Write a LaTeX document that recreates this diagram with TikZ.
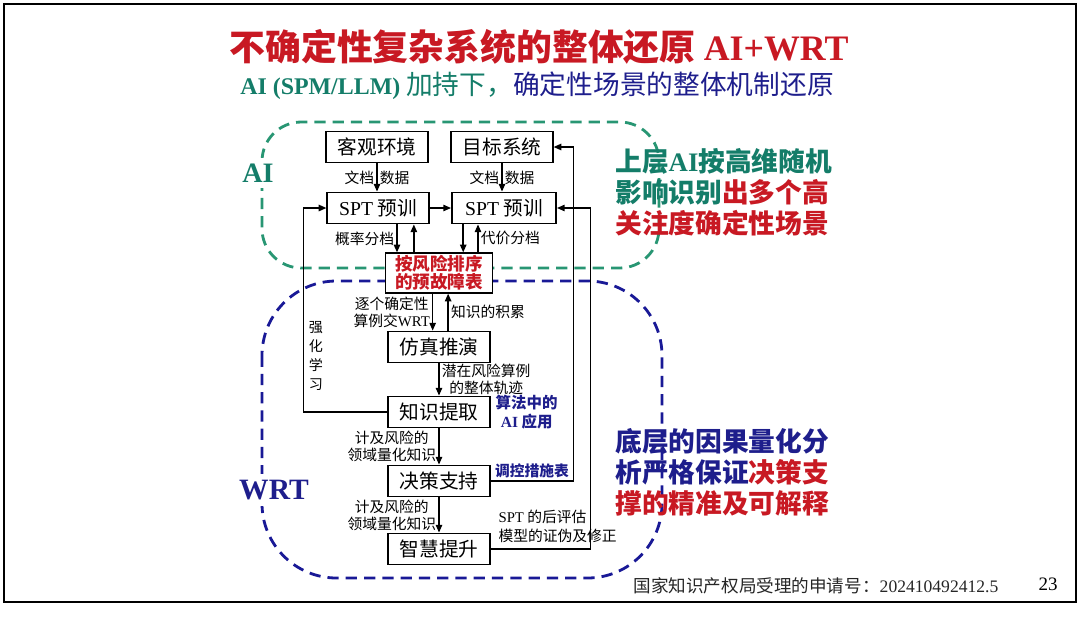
\documentclass[tikz,border=0pt]{standalone}
\usepackage{fontspec}
\setmainfont{Noto Sans CJK SC}
\newfontfamily\tnr{Liberation Serif}
\usetikzlibrary{arrows.meta,positioning}
\definecolor{titlered}{RGB}{200,25,35}
\definecolor{aiteal}{RGB}{20,125,105}
\definecolor{wrtnavy}{RGB}{30,30,140}
\definecolor{aidash}{RGB}{40,150,115}
\definecolor{wrtdash}{RGB}{25,25,150}
\newcommand{\lat}[1]{{\tnr #1}}

\begin{document}
\begin{tikzpicture}[x=0.025cm,y=-0.025cm,
    box/.style={draw, line width=1.3pt, fill=white, minimum width=72pt, minimum height=22pt, inner sep=0pt, font=\fontsize{14}{16}\selectfont},
    lbl/.style={font=\fontsize{10.5}{12}\selectfont, inner sep=1.5pt, align=center},
    link/.style={line width=1.1pt, ->, >={Triangle[length=5.5pt,width=4.5pt]}},
    zone/.style={dash pattern=on 8pt off 5pt, line width=2pt},
    side/.style={font=\bfseries\fontsize{19}{22}\selectfont, align=left, anchor=west, inner sep=0pt}]
    \useasboundingbox (0,0) rectangle (1080,634);
    \draw[line width=2pt] (4,4) rectangle (1076,602);

    % title lines
    \node (title) at (539,47) [text=titlered, font=\bfseries\fontsize{25.5}{28}\selectfont] {不确定性复杂系统的整体还原\ \lat{AI+WRT}};
    \node (sub) at (537,86) [font=\fontsize{19}{22}\selectfont] {\textcolor{aiteal}{{\tnr\bfseries\fontsize{17}{20}\selectfont AI (SPM/LLM)} 加持下，}\textcolor{wrtnavy}{确定性场景的整体机制还原}};

    % the two layers
    \draw[zone, aidash, rounded corners=28pt] (262,122) rectangle (659,268);
    \draw[zone, wrtdash, rounded corners=53pt] (262,281) rectangle (662,578);
    \node (ailbl) at (258,173) [fill=white, text=aiteal, inner sep=4pt, font=\tnr\bfseries\fontsize{20}{22}\selectfont] {AI};
    \node (wrtlbl) at (274,490) [fill=white, text=wrtnavy, inner sep=4pt, font=\tnr\bfseries\fontsize{21}{23}\selectfont] {WRT};

    % boxes
    \node[box] (kg) at (377,147) {客观环境};
    \node[box] (mb) at (502,147) {目标系统};
    \node[box] (spta) at (378,208) {\lat{SPT} 预训};
    \node[box, minimum width=74pt] (sptb) at (504,208) {\lat{SPT} 预训};
    \node[box, minimum width=76pt, minimum height=28pt, text=titlered, align=center, font=\bfseries\fontsize{12.5}{13}\selectfont] (tbl) at (439,273) {按风险排序\\的预故障表};
    \node[box] (sim) at (439,347) {仿真推演};
    \node[box] (kx) at (439,412) {知识提取};
    \node[box] (jc) at (439,481) {决策支持};
    \node[box] (zh) at (439,549) {智慧提升};

    % upper links
    \draw[link] (kg.south) -- (kg.south |- spta.north) node[lbl, midway, left] {文档} node[lbl, midway, right] {数据};
    \draw[link] (mb.south) -- (mb.south |- sptb.north) node[lbl, midway, left] {文档} node[lbl, midway, right] {数据};
    \draw[link] (spta.east) -- (sptb.west);
    \draw[link] ([xshift=13.5pt]spta.south) -- ([xshift=13.5pt]spta.south |- tbl.north) node[lbl, midway, left] {概率分档};
    \draw[link] ([xshift=25.5pt]spta.south |- tbl.north) -- ([xshift=25.5pt]spta.south);
    \draw[link] ([xshift=-29pt]sptb.south) -- ([xshift=-29pt]sptb.south |- tbl.north);
    \draw[link] ([xshift=-18.5pt]sptb.south |- tbl.north) -- ([xshift=-18.5pt]sptb.south) node[lbl, midway, right] {代价分档};

    % lower chain
    \draw[link] ([xshift=-4.5pt]tbl.south) -- ([xshift=-4.5pt]tbl.south |- sim.north) node[lbl, midway, left] {逐个确定性\\算例交\lat{WRT}};
    \draw[link] ([xshift=6.5pt]tbl.south |- sim.north) -- ([xshift=6.5pt]tbl.south) node[lbl, midway, right] {知识的积累};
    \draw[link] (sim) -- (kx) node[lbl, midway, right] {潜在风险算例\\的整体轨迹};
    \draw[link] (kx) -- (jc) node[lbl, midway, left] {计及风险的\\领域量化知识};
    \draw[link] (jc) -- (zh) node[lbl, midway, left] {计及风险的\\领域量化知识};

    % feedback loops
    \draw[link] (kx.west) -- ++(-84,0) |- (spta.west);
    \node[lbl, font=\fontsize{10}{13.5}\selectfont] (qh) at (316,356) {强\\化\\学\\习};
    \draw[link] (jc.east) -- ++(83,0) node[lbl, midway, above, text=wrtnavy, font=\bfseries\fontsize{10.5}{12}\selectfont] {调控措施表} |- (mb.east);
    \draw[link] (zh.east) -- ++(100,0) |- (sptb.east);
    \node[lbl, align=left, above right=3pt and 4pt of zh.east, font=\fontsize{10.5}{13}\selectfont] (post) {\lat{SPT} 的后评估\\模型的证伪及修正};
    \node[lbl, right=2pt of kx, text=wrtnavy, font=\bfseries\fontsize{11}{14}\selectfont] (algo) {算法中的\\\lat{AI} 应用};

    % side notes
    \node[side, text=aiteal] (upper) at (615,192) {上层\lat{AI}按高维随机\\影响识别\textcolor{titlered}{出多个高}\\\textcolor{titlered}{关注度确定性场景}};
    \node[side, text=wrtnavy] (lower) at (615,472) {底层的因果量化分\\析严格保证\textcolor{titlered}{决策支}\\\textcolor{titlered}{撑的精准及可解释}};

    % footer
    \node (patent) at (816,586) [font=\fontsize{12.5}{14}\selectfont, text=black!85] {国家知识产权局受理的申请号：\lat{202410492412.5}};
    \node (page) at (1048,584) [font=\tnr\fontsize{13.5}{15}\selectfont] {23};
\end{tikzpicture}
\end{document}
